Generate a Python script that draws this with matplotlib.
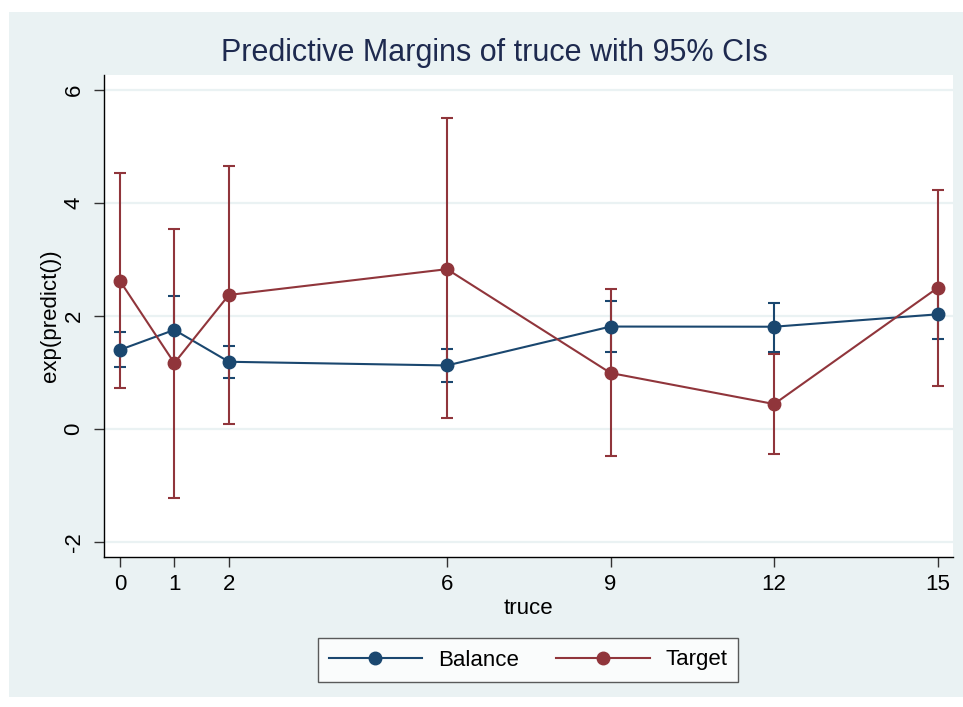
import matplotlib
matplotlib.use("Agg")
import matplotlib.pyplot as plt
from matplotlib.lines import Line2D
from matplotlib.patches import Rectangle
import numpy as np

plt.rcParams['font.family'] = ['Liberation Sans', 'DejaVu Sans']

# margins by truce length
truce = [0, 1, 2, 6, 9, 12, 15]

balance = [1.40, 1.754, 1.189, 1.124, 1.813, 1.81, 2.03]
balance_lo = [1.09, 1.16, 0.894, 0.83, 1.36, 1.37, 1.595]
balance_hi = [1.72, 2.35, 1.47, 1.42, 2.27, 2.23, 2.465]

target = [2.625, 1.166, 2.373, 2.83, 0.99, 0.44, 2.50]
target_lo = [0.717, -1.22, 0.094, 0.188, -0.48, -0.44, 0.765]
target_hi = [4.53, 3.545, 4.66, 5.50, 2.48, 1.325, 4.24]

y_ticks = [-2, 0, 2, 4, 6]

navy = '#1a476f'
maroon = '#90353b'
bg = '#eaf2f3'

fig = plt.figure(figsize=(9.63, 7.07), dpi=100)
fig.patch.set_facecolor('white')
fig.patches.append(Rectangle((9 / 963, 10 / 707), 1 - 9 / 963, (697 - 12) / 707,
                             transform=fig.transFigure, facecolor=bg,
                             edgecolor='none', zorder=-10))

ax = fig.add_axes([104 / 963, 150 / 707, (953 - 104) / 963, (557 - 75) / 707])
ax.set_facecolor('white')

for vals, lo, hi, col in [(balance, balance_lo, balance_hi, navy),
                          (target, target_lo, target_hi, maroon)]:
    v = np.array(vals)
    err = [v - np.array(lo), np.array(hi) - v]
    ax.errorbar(truce, v, yerr=err, fmt='none', ecolor=col, elinewidth=1.5,
                capsize=4.5, capthick=1.5, zorder=2)

ax.plot(truce, balance, color=navy, lw=1.5, marker='o', ms=9, zorder=3)
ax.plot(truce, target, color=maroon, lw=1.5, marker='o', ms=9, zorder=4)

ax.set_xlim(-0.29, 15.28)
ax.set_ylim(-2.27, 6.27)
ax.set_xticks(truce)
ax.set_yticks(y_ticks)
ax.set_yticklabels([str(t) for t in y_ticks], rotation=90, va='center')
ax.grid(axis='y', color=bg, lw=1.6)
ax.set_axisbelow(True)

for s in ['top', 'right']:
    ax.spines[s].set_visible(False)
for s in ['left', 'bottom']:
    ax.spines[s].set_color('black')
    ax.spines[s].set_linewidth(1.0)

ax.tick_params(axis='both', length=7, width=1, color='#333333', labelsize=16,
               labelcolor='black')
ax.tick_params(axis='x', pad=5)
ax.tick_params(axis='y', pad=7)

fig.text(494 / 963, 1 - 53 / 707, 'Predictive Margins of truce with 95% CIs',
         ha='center', va='center', fontsize=22, color='#1e2a4f')
fig.text(528 / 963, 1 - 608 / 707, 'truce', ha='center', va='center',
         fontsize=16)
fig.text(50 / 963, 1 - 316 / 707, 'exp(predict())', ha='center', va='center',
         rotation=90, fontsize=16)

handles = [Line2D([], [], color=navy, lw=1.5, marker='o', ms=9),
           Line2D([], [], color=maroon, lw=1.5, marker='o', ms=9)]
leg = fig.legend(handles, ['Balance', 'Target'], ncol=2, loc='center',
                 bbox_to_anchor=(528 / 963, 1 - 660 / 707), fontsize=16,
                 frameon=True, fancybox=False, handlelength=4.2,
                 columnspacing=1.7, borderpad=0.5, handletextpad=0.7)
leg.get_frame().set_edgecolor('#333333')
leg.get_frame().set_linewidth(1.0)
leg.get_frame().set_facecolor('white')

fig.savefig('out.png', dpi=100)
